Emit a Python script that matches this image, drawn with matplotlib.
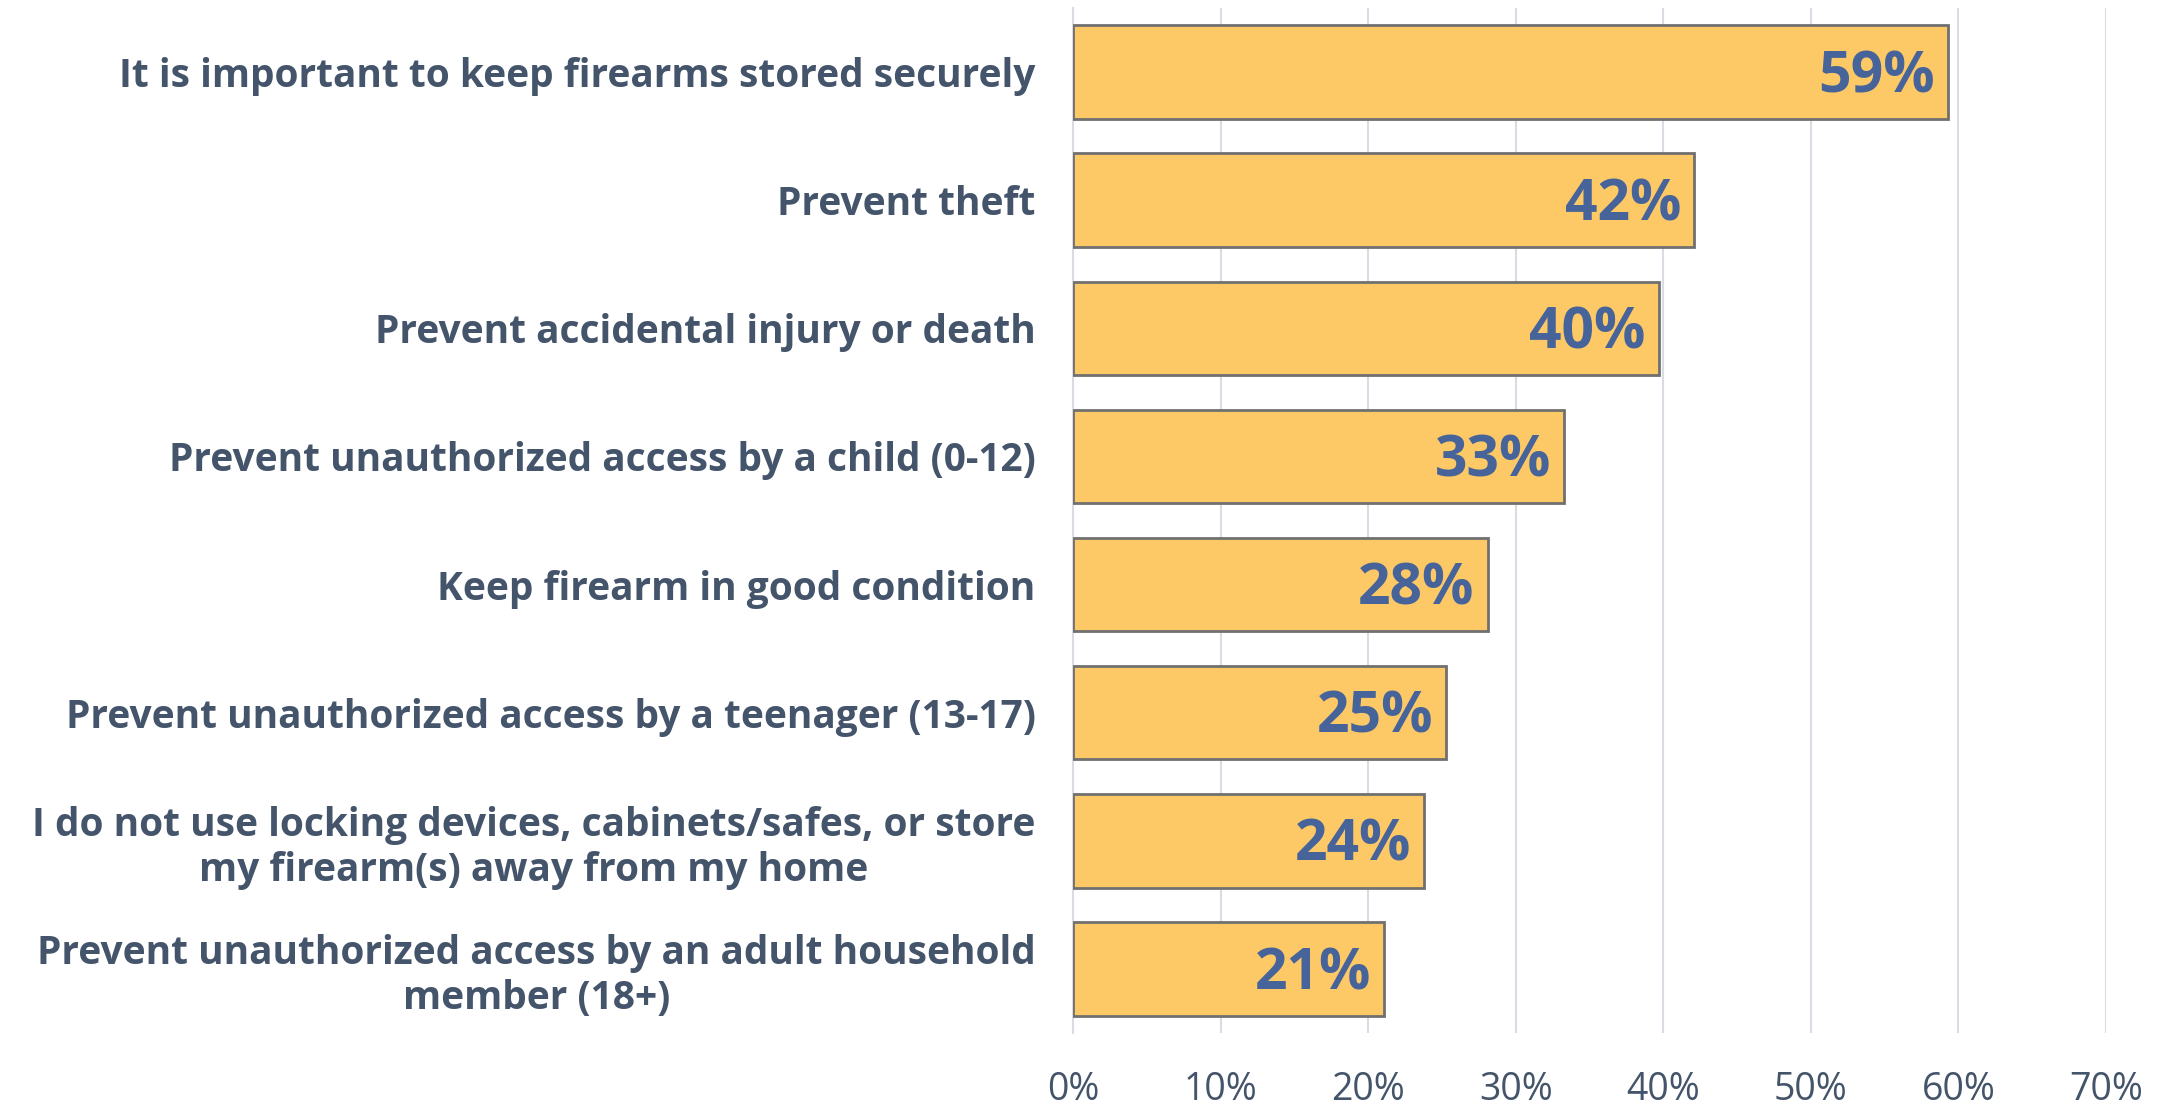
import matplotlib
matplotlib.use("Agg")
import matplotlib.pyplot as plt
from matplotlib.ticker import FuncFormatter

categories = [
    "It is important to keep firearms stored securely",
    "Prevent theft",
    "Prevent accidental injury or death",
    "Prevent unauthorized access by a child (0-12)",
    "Keep firearm in good condition",
    "Prevent unauthorized access by a teenager (13-17)",
    "I do not use locking devices, cabinets/safes, or store\nmy firearm(s) away from my home",
    "Prevent unauthorized access by an adult household\nmember (18+)",
]
values = [59.3, 42.1, 39.7, 33.3, 28.1, 25.3, 23.8, 21.1]
value_labels = ["59%", "42%", "40%", "33%", "28%", "25%", "24%", "21%"]
xticks = [0, 10, 20, 30, 40, 50, 60, 70]

label_color = "#44546A"
value_color = "#46639A"
bar_color = "#FDC966"
edge_color = "#707070"
grid_color = "#D9DCE3"

fig = plt.figure(figsize=(21.62, 11.06), dpi=100)
ax = fig.add_axes([0.4963, 0.066, 0.4778, 0.9268])

y = list(range(len(categories)))
ax.barh(y, values, height=0.73, color=bar_color, edgecolor=edge_color, linewidth=2, zorder=3)
ax.set_ylim(len(categories) - 0.5, -0.5)
ax.set_xlim(0, 70)
ax.set_xticks(xticks)
ax.xaxis.set_major_formatter(FuncFormatter(lambda v, p: f"{int(v)}%"))
ax.grid(axis="x", color=grid_color, linewidth=1.5, zorder=0)
ax.set_axisbelow(True)
for s in ["top", "right", "bottom"]:
    ax.spines[s].set_visible(False)
ax.spines["left"].set_color(grid_color)
ax.spines["left"].set_linewidth(1.5)
ax.tick_params(axis="x", length=0, pad=27, labelsize=27, labelcolor=label_color)
ax.tick_params(axis="y", length=0, pad=27)
for t in ax.get_xticklabels():
    t.set_fontfamily("Open Sans")
ax.set_yticks(y)
ax.set_yticklabels(categories, fontsize=28, fontweight="bold", color=label_color,
                   family="Open Sans", multialignment="center", linespacing=1.2)

for yi, v, lab in zip(y, values, value_labels):
    ax.text(v - 0.9, yi + 0.04, lab, ha="right", va="center", fontsize=41,
            fontweight="bold", color=value_color, family="Open Sans", zorder=4)

fig.savefig("out.png", dpi=100)
